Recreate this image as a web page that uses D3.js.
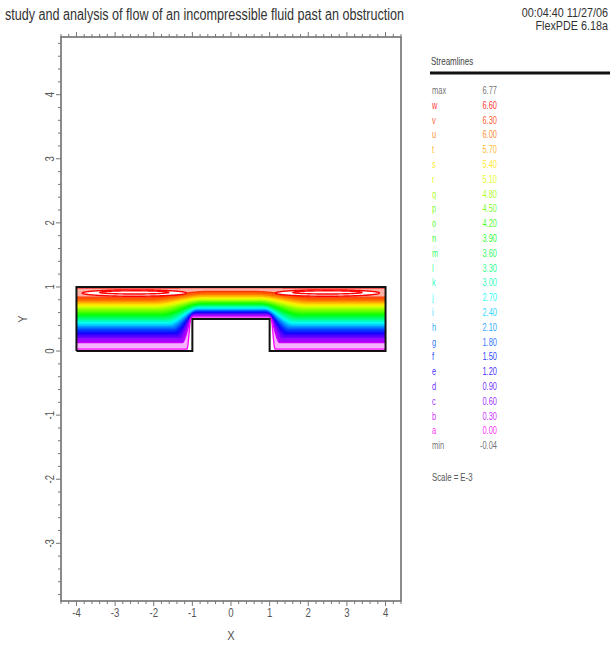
<!DOCTYPE html>
<html><head><meta charset="utf-8">
<script src="https://cdn.jsdelivr.net/npm/d3@7/dist/d3.min.js"></script>
<style>body{margin:0;background:#fff}svg{display:block}</style>
</head><body>
<script>
// ---------- data ----------
const titleText = "study and analysis of flow of an incompressible fluid past an obstruction";
const stampLines = ["00:04:40 11/27/06", "FlexPDE 6.18a"];
const legendTitle = "Streamlines";
const scaleNote = "Scale = E-3";
const levelNames  = ["w","v","u","t","s","r","q","p","o","n","m","l","k","j","i","h","g","f","e","d","c","b","a"];
const levelValues = [6.60,6.30,6.00,5.70,5.40,5.10,4.80,4.50,4.20,3.90,3.60,3.30,3.00,2.70,2.40,2.10,1.80,1.50,1.20,0.90,0.60,0.30,0.00];
const maxValue = 6.77, minValue = -0.04;
// streamline height far from the obstruction (x = ±4) and above it (x = 0)
const yInlet = [0.985,0.84,0.79,0.755,0.72,0.69,0.66,0.625,0.59,0.56,0.53,0.50,0.47,0.44,0.41,0.38,0.345,0.31,0.275,0.235,0.19,0.13,0.03];
const yGap   = [0.99,0.93,0.89,0.86,0.835,0.81,0.79,0.77,0.75,0.73,0.715,0.70,0.685,0.67,0.655,0.64,0.625,0.61,0.595,0.58,0.565,0.545,0.515];
// closed 6.60 loops near the top wall (outer and inner trace)
const loopCx = [-2.5, 2.5], loopCy = [0.905, 0.915], loopRx = [1.35, 0.9], loopRy = [0.05, 0.025];
const xTickValues = [-4,-3,-2,-1,0,1,2,3,4];
const yTickValues = [-3,-2,-1,0,1,2,3,4];
const xDomain = [-4.4, 4.4], yDomain = [-3.9, 4.9];
const outline = [[-4,0],[-4,1],[4,1],[4,0],[1,0],[1,0.5],[-1,0.5],[-1,0],[-4,0]];

// ---------- drawing ----------
const W = 612, H = 660;
const svg = d3.select("body").append("svg").attr("width", W).attr("height", H);
const F = "'Liberation Sans',Arial,sans-serif";
const x = d3.scaleLinear().domain(xDomain).range([61, 401]);
const y = d3.scaleLinear().domain(yDomain).range([601, 37]);
const hue = d3.scaleLinear().domain([0, levelNames.length - 1]).range([0, 300]);
const col = i => d3.hsl(hue(i), 1, 0.5).formatHex();

function txt(px, py, s, size, fill, anchor, sx, rot) {
  return svg.append("text")
    .attr("transform", `translate(${px},${py})` + (rot ? ` rotate(${rot})` : "") + ` scale(${sx || 1},1)`)
    .attr("text-anchor", anchor || "start").attr("font-family", F).attr("font-size", size)
    .attr("fill", fill).text(s);
}

// header
svg.append("text").attr("x", 5).attr("y", 20).attr("font-family", F).attr("font-size", 16)
  .attr("fill", "#333").attr("textLength", 399).attr("lengthAdjust", "spacingAndGlyphs").text(titleText);
stampLines.forEach((s, i) => txt(608, 17 + i * 13, s, 12, "#333", "end", 0.9));

// frame
svg.append("rect").attr("x", x(xDomain[0])).attr("y", y(yDomain[1]))
  .attr("width", x(xDomain[1]) - x(xDomain[0])).attr("height", y(yDomain[0]) - y(yDomain[1]))
  .attr("fill", "none").attr("stroke", "#666").attr("stroke-width", 1.5);

// ticks
const tickG = svg.append("g").attr("stroke", "#777").attr("stroke-width", 1);
d3.range(-22, 23).forEach(k => {
  const v = k / 5, L = k % 5 === 0 ? 5 : 3;
  tickG.append("line").attr("x1", x(v)).attr("x2", x(v)).attr("y1", y(yDomain[1])).attr("y2", y(yDomain[1]) - L);
  tickG.append("line").attr("x1", x(v)).attr("x2", x(v)).attr("y1", y(yDomain[0])).attr("y2", y(yDomain[0]) + L);
});
d3.range(-19, 25).forEach(k => {
  const v = k / 5, L = k % 5 === 0 ? 5 : 3;
  tickG.append("line").attr("x1", x(xDomain[0])).attr("x2", x(xDomain[0]) - L).attr("y1", y(v)).attr("y2", y(v));
});
xTickValues.forEach(v => txt(x(v), 617, v, 12, "#555", "middle", 0.8));
yTickValues.forEach(v => txt(54, y(v), v, 12, "#555", "middle", 0.8, -90));
txt(x(0), 640, "X", 13, "#555", "middle", 0.85);
txt(27, y(0.5), "Y", 13, "#555", "middle", 0.85, -90);

// streamlines
const xs = d3.range(-4, 4.0001, 0.02);
function shape(i, xv) {
  const yi = yInlet[i], yg = yGap[i];
  const xsT = -1.1 - 1.25 * yi, xeT = -1.05 + 0.5 * yi;
  let t = (-Math.abs(xv) - xsT) / (xeT - xsT);
  t = Math.max(0, Math.min(1, t));
  return yi + (yg - yi) * t * t * (3 - 2 * t);
}
const defs = svg.append("defs");
defs.append("clipPath").attr("id", "dom").append("path")
  .attr("d", d3.line().x(d => x(d[0])).y(d => y(d[1]))(outline));
const plot = svg.append("g").attr("clip-path", "url(#dom)");
const n = levelNames.length;
for (let i = 0; i < n - 1; i++) {
  const c = d3.interpolateRgb(col(i), col(i + 1))(0.5);
  const op = (i === 0) ? 0.35 : (i === n - 2 ? 0.3 : 1);
  plot.append("path").attr("fill", c).attr("fill-opacity", op)
    .attr("d", d3.area().x(d => x(d)).y0(d => y(shape(i + 1, d))).y1(d => y(shape(i, d)))(xs));
}
for (let i = 0; i < n; i++) {
  plot.append("path").attr("fill", "none").attr("stroke", col(i)).attr("stroke-width", 1.3)
    .attr("d", d3.line().x(d => x(d)).y(d => y(shape(i, d)))(xs));
}
// 6.60 loops
loopCx.forEach(cx => loopRx.forEach((rx, j) => {
  const pts = d3.range(0, 2 * Math.PI + 0.01, 0.05).map(a => [cx + rx * Math.cos(a), loopCy[j] + loopRy[j] * Math.sin(a)]);
  plot.append("path").attr("fill", j === 0 ? "#fff" : "none").attr("stroke", col(0)).attr("stroke-width", 1.4)
    .attr("d", d3.line().x(d => x(d[0])).y(d => y(d[1]))(pts));
}));
// domain boundary
svg.append("path").attr("fill", "none").attr("stroke", "#111").attr("stroke-width", 2)
  .attr("d", d3.line().x(d => x(d[0])).y(d => y(d[1]))(outline));

// legend
txt(431, 65, legendTitle, 10, "#444", "start", 0.8);
svg.append("line").attr("x1", 430).attr("x2", 610).attr("y1", 73).attr("y2", 73).attr("stroke", "#111").attr("stroke-width", 3);
const rows = [["max", maxValue, "#555"]].concat(levelNames.map((nm, i) => [nm, levelValues[i], col(i)])).concat([["min", minValue, "#555"]]);
rows.forEach((r, k) => {
  const yy = 94 + k * 14.8;
  txt(432, yy, r[0], 10, r[2], "start", 0.75).attr("fill-opacity", 0.85);
  txt(497, yy, r[1].toFixed(2), 10, r[2], "end", 0.75).attr("fill-opacity", 0.85);
});
txt(432, 481, scaleNote, 10, "#555", "start", 0.78);
</script>
</body></html>
